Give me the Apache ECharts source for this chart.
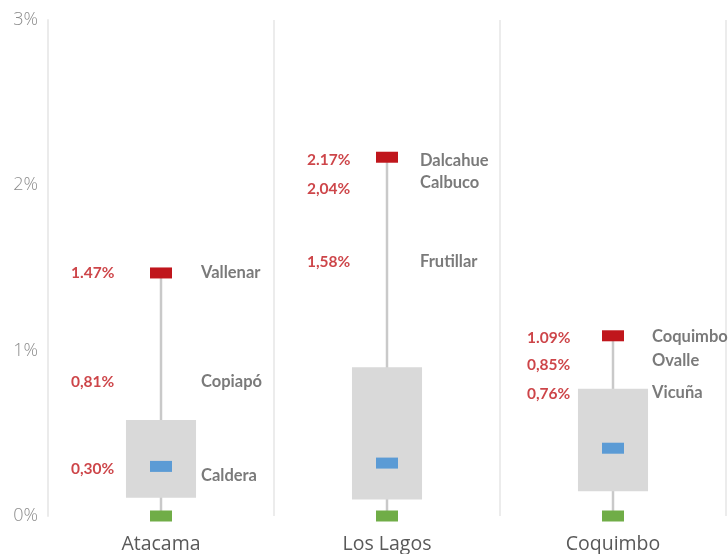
<!DOCTYPE html>
<html>
<head>
<meta charset="utf-8">
<script src="https://cdn.jsdelivr.net/npm/echarts@6/dist/echarts.min.js"></script>
<style>html,body{margin:0;padding:0;background:#fff}#c{width:728px;height:554px}</style>
</head>
<body>
<div id="c"></div>
<script>
// ---- data ----
const categories = ['Atacama', 'Los Lagos', 'Coquimbo'];
const yTicks = [0, 1, 2, 3];
const minVals = [0, 0, 0];
const q1Vals = [0.11, 0.10, 0.15];
const medianVals = [0.30, 0.32, 0.41];
const q3Vals = [0.58, 0.90, 0.77];
const maxVals = [1.47, 2.17, 1.09];
const cityNames = [
  ['Vallenar', 'Copiapó', 'Caldera'],
  ['Dalcahue', 'Calbuco', 'Frutillar'],
  ['Coquimbo', 'Ovalle', 'Vicuña']
];
const cityValues = [
  [1.47, 0.81, 0.30],
  [2.17, 2.04, 1.58],
  [1.09, 0.85, 0.76]
];
const cityValueText = [
  ['1.47%', '0,81%', '0,30%'],
  ['2.17%', '2,04%', '1,58%'],
  ['1.09%', '0,85%', '0,76%']
];

// ---- styling (pixel nudges for label placement) ----
const valueDx = [-90, -80, -86];
const nameDx = [40, 33, 39];
const valueNudge = [[0, 0, 3], [3, 10, 7], [2, -10, 4]];
const nameNudge = [[0, 0, 9], [3, 4, 7], [1, -15, 2]];

const boxData = categories.map((c, i) => [i, minVals[i], q1Vals[i], q3Vals[i], maxVals[i]]);

const valueLabelData = [];
const nameLabelData = [];
categories.forEach((c, i) => {
  cityValues[i].forEach((v, j) => {
    valueLabelData.push({ value: [i, v], label: { formatter: cityValueText[i][j], offset: [valueDx[i], valueNudge[i][j]] } });
    nameLabelData.push({ value: [i, v], label: { formatter: cityNames[i][j], offset: [nameDx[i], nameNudge[i][j]] } });
  });
});

const chart = echarts.init(document.getElementById('c'), null, { renderer: 'canvas' });
const markSeries = (vals, color) => ({
  type: 'scatter',
  data: vals.map((v, i) => [i, v]),
  symbol: 'rect',
  symbolSize: [22, 11],
  itemStyle: { color: color, opacity: 1 },
  z: 5,
  silent: true
});

chart.setOption({
  animation: false,
  grid: { left: 48, right: 2, top: 20, bottom: 37, containLabel: false },
  xAxis: {
    type: 'category',
    data: categories,
    axisLine: { show: false },
    axisTick: { show: false },
    splitLine: { show: true, lineStyle: { color: '#e6e6e6', width: 1.5 } },
    axisLabel: { color: '#595959', fontSize: 19.5, fontFamily: 'Open Sans', margin: 18 }
  },
  yAxis: {
    type: 'value',
    min: 0, max: 3, interval: 1,
    axisLine: { show: true, lineStyle: { color: '#ebebeb', width: 2 } },
    axisTick: { show: false },
    splitLine: { show: false },
    axisLabel: {
      color: '#8c8c8c', fontSize: 18, fontFamily: 'Open Sans', fontWeight: 300, margin: 10,
      formatter: v => yTicks.includes(v) ? v + '%' : ''
    }
  },
  series: [
    {
      type: 'custom',
      data: boxData,
      z: 2,
      silent: true,
      renderItem: function (params, api) {
        const idx = api.value(0);
        const pMin = api.coord([idx, api.value(1)]);
        const pQ1 = api.coord([idx, api.value(2)]);
        const pQ3 = api.coord([idx, api.value(3)]);
        const pMax = api.coord([idx, api.value(4)]);
        const w = api.size([1, 0])[0] * 0.31;
        return {
          type: 'group',
          children: [
            { type: 'line', shape: { x1: pMin[0], y1: pMin[1], x2: pMax[0], y2: pMax[1] }, style: { stroke: '#c9c9c9', lineWidth: 2.5 } },
            { type: 'rect', shape: { x: pQ3[0] - w / 2, y: pQ3[1], width: w, height: pQ1[1] - pQ3[1] }, style: { fill: '#d9d9d9' } }
          ]
        };
      }
    },
    markSeries(maxVals, '#c0161c'),
    markSeries(medianVals, '#5b9bd5'),
    markSeries(minVals, '#70ad47'),
    {
      type: 'scatter',
      data: valueLabelData,
      symbolSize: 0,
      silent: true,
      z: 6,
      label: { show: true, position: 'inside', align: 'left', verticalAlign: 'middle', color: '#c0161c', fontFamily: 'Lato', fontWeight: 'bold', fontSize: 15.5 }
    },
    {
      type: 'scatter',
      data: nameLabelData,
      symbolSize: 0,
      silent: true,
      z: 6,
      label: { show: true, position: 'inside', align: 'left', verticalAlign: 'middle', color: '#595959', fontFamily: 'Lato', fontWeight: 'bold', fontSize: 16.5 }
    }
  ]
});
</script>
</body>
</html>
